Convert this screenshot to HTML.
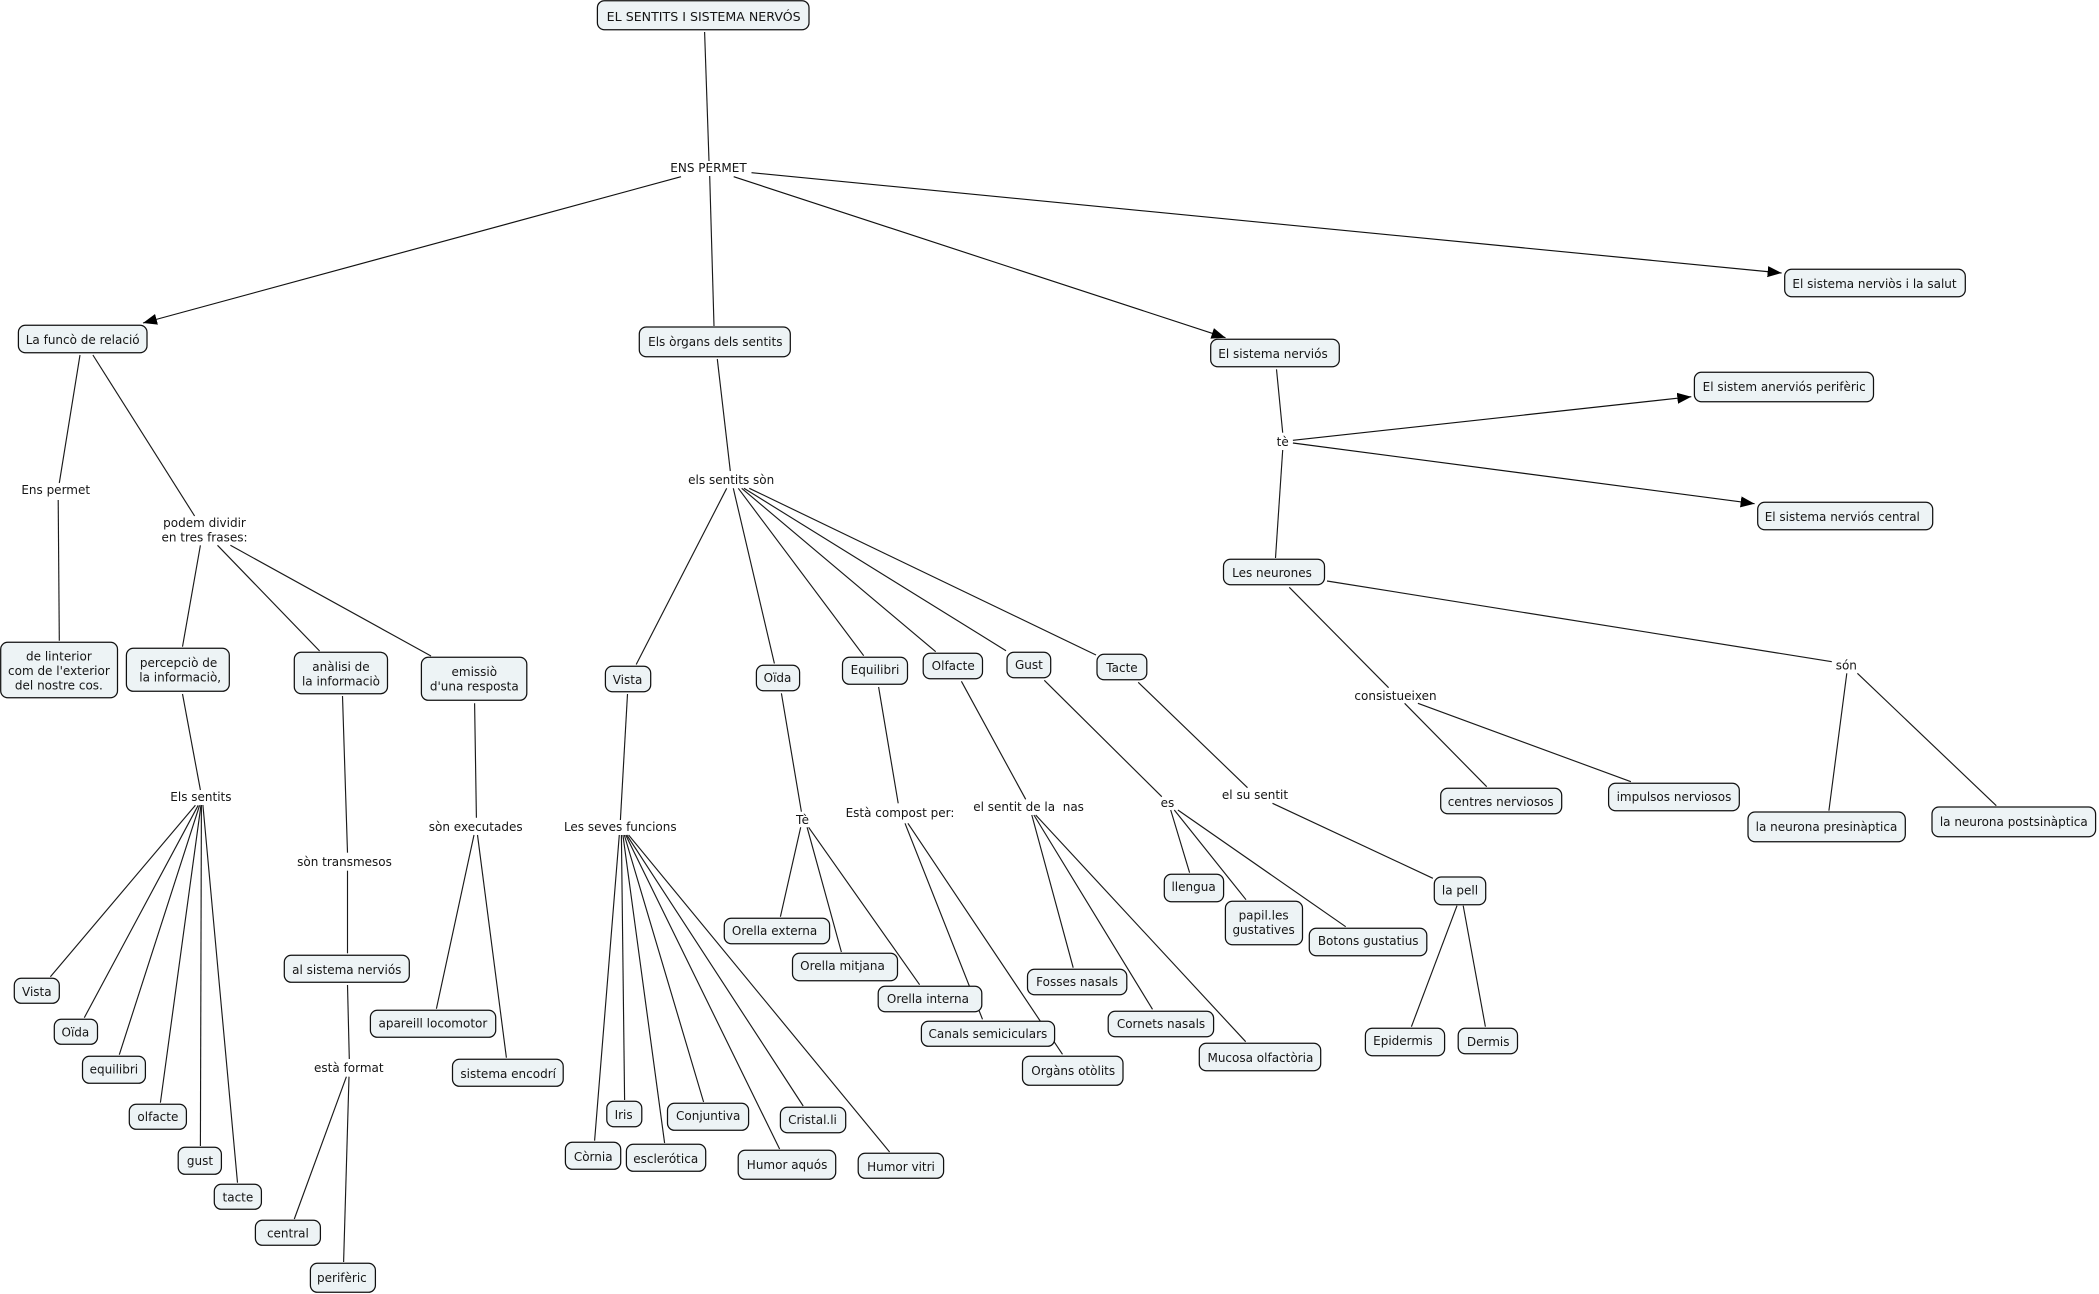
<!DOCTYPE html>
<html lang="ca">
<head>
<meta charset="utf-8">
<title>EL SENTITS I SISTEMA NERVÓS</title>
<style>
html,body{margin:0;padding:0;background:#fff;}
svg{display:block;position:absolute;left:0;top:0;}
text{font-family:"DejaVu Sans","Liberation Sans",sans-serif;font-size:12px;fill:#151515;text-anchor:middle;}
.l line{stroke:#1a1a1a;stroke-width:1.15;}
.a line{stroke:#111;stroke-width:1.15;marker-end:url(#ah);}
.b rect{fill:#edf3f5;stroke:#111;stroke-width:1.25;rx:7px;ry:7px;}
</style>
</head>
<body>
<svg width="2099" height="1294" viewBox="0 0 2099 1294" xmlns="http://www.w3.org/2000/svg">
<defs>
<marker id="ah" markerUnits="userSpaceOnUse" markerWidth="15" markerHeight="12" refX="14" refY="6" orient="auto">
<path d="M0,0.5 L14,6 L0,11.5 Z" fill="#000"/>
</marker>
</defs>

<g class="l">
<line x1="704.6" y1="32" x2="709" y2="161"/>
<line x1="709.7" y1="176" x2="714" y2="326"/>
<line x1="80" y1="355" x2="59.3" y2="483"/>
<line x1="58.2" y1="500" x2="59.3" y2="640.7"/>
<line x1="92.9" y1="355" x2="194.6" y2="516"/>
<line x1="200.4" y1="545.3" x2="182.5" y2="646.7"/>
<line x1="217.5" y1="545.3" x2="319.6" y2="651"/>
<line x1="230.4" y1="545.3" x2="431" y2="656"/>
<line x1="182.5" y1="694" x2="200.4" y2="790"/>
<line x1="342.5" y1="696" x2="347.5" y2="852.7"/>
<line x1="347.5" y1="870.7" x2="347.5" y2="953.3"/>
<line x1="474.6" y1="703.3" x2="476.4" y2="817.7"/>
<line x1="474" y1="835" x2="436.4" y2="1008.7"/>
<line x1="477.5" y1="835" x2="506.4" y2="1057.7"/>
<line x1="347.5" y1="985" x2="349.3" y2="1059"/>
<line x1="346.4" y1="1076.7" x2="294.3" y2="1219"/>
<line x1="349" y1="1076.7" x2="343.6" y2="1262"/>
<line x1="195.4" y1="805.3" x2="50.4" y2="976.7"/>
<line x1="198.2" y1="805.3" x2="84.3" y2="1017.7"/>
<line x1="199.6" y1="805.3" x2="119.3" y2="1054.7"/>
<line x1="201" y1="805" x2="160.4" y2="1102.7"/>
<line x1="201.4" y1="805" x2="200.4" y2="1146"/>
<line x1="202.9" y1="805" x2="237.5" y2="1182.7"/>

<line x1="717.3" y1="359" x2="730.3" y2="471"/>
<line x1="726.7" y1="488.3" x2="636.2" y2="664.5"/>
<line x1="733.3" y1="488.3" x2="774.4" y2="663.5"/>
<line x1="738.3" y1="488.3" x2="863.7" y2="655.7"/>
<line x1="741.7" y1="488.3" x2="935.7" y2="651.7"/>
<line x1="744" y1="488.3" x2="1006" y2="650.7"/>
<line x1="749.3" y1="488.3" x2="1096" y2="655"/>

<line x1="627.5" y1="694" x2="620.4" y2="820"/>
<line x1="619.3" y1="835" x2="594.6" y2="1140.7"/>
<line x1="621.4" y1="835" x2="624.6" y2="1100"/>
<line x1="622.9" y1="835" x2="664.6" y2="1143"/>
<line x1="624.3" y1="835" x2="703.6" y2="1102"/>
<line x1="625.7" y1="835" x2="779.6" y2="1149"/>
<line x1="626.8" y1="835" x2="803.2" y2="1106"/>
<line x1="628.6" y1="835" x2="889.6" y2="1152"/>

<line x1="781.4" y1="693.3" x2="801.4" y2="811.7"/>
<line x1="800.7" y1="827.3" x2="780.4" y2="916.7"/>
<line x1="807.1" y1="827.3" x2="841.4" y2="952"/>
<line x1="808.6" y1="827.3" x2="919.6" y2="984.7"/>

<line x1="878.6" y1="687" x2="898.2" y2="803.3"/>
<line x1="905" y1="823.3" x2="982.5" y2="1019.3"/>
<line x1="907.9" y1="823.3" x2="1062.5" y2="1054.3"/>

<line x1="961.4" y1="681.3" x2="1025.7" y2="799.3"/>
<line x1="1031.8" y1="815" x2="1073.2" y2="967.7"/>
<line x1="1033.9" y1="815" x2="1152.5" y2="1009.3"/>
<line x1="1035.7" y1="815" x2="1245.7" y2="1041.7"/>

<line x1="1044.3" y1="680.3" x2="1161.8" y2="796.7"/>
<line x1="1170.7" y1="810" x2="1189.6" y2="872.7"/>
<line x1="1174.3" y1="810" x2="1246" y2="899.7"/>
<line x1="1177.9" y1="810" x2="1345.7" y2="926.7"/>

<line x1="1138.2" y1="682.3" x2="1247.5" y2="787.7"/>
<line x1="1272.5" y1="803.3" x2="1432.9" y2="878.3"/>
<line x1="1457" y1="905.7" x2="1411.4" y2="1026.7"/>
<line x1="1463.2" y1="905.7" x2="1485.4" y2="1026.7"/>

<line x1="1276.5" y1="369.3" x2="1282.7" y2="432.7"/>
<line x1="1282.7" y1="450" x2="1275.5" y2="558"/>
<line x1="1289.3" y1="587.3" x2="1388.6" y2="687.7"/>
<line x1="1327" y1="581" x2="1831.8" y2="661.7"/>
<line x1="1404.6" y1="703.3" x2="1486.7" y2="786.7"/>
<line x1="1417.9" y1="703.3" x2="1630.9" y2="781.7"/>
<line x1="1846.8" y1="673.3" x2="1828.9" y2="810.7"/>
<line x1="1857.4" y1="673.3" x2="1996.3" y2="805.7"/>
</g>

<g class="a">
<line x1="681" y1="176.7" x2="143" y2="323"/>
<line x1="733.7" y1="176.7" x2="1225.5" y2="337.7"/>
<line x1="751.5" y1="172.7" x2="1781.6" y2="273"/>
<line x1="1292.9" y1="440.3" x2="1691.3" y2="396.7"/>
<line x1="1292.9" y1="443" x2="1754.6" y2="503.7"/>
</g>

<g class="b">
<rect x="597.4" y="0.7" width="211.6" height="29"/>
<rect x="18.4" y="325.3" width="128.6" height="27.4"/>
<rect x="639.3" y="327" width="151" height="29.7"/>
<rect x="0.7" y="642.3" width="116.8" height="55.4"/>
<rect x="126.4" y="648.3" width="102.9" height="43"/>
<rect x="294.3" y="652.3" width="93.2" height="41.4"/>
<rect x="421.4" y="657.3" width="105.4" height="43"/>
<rect x="14.3" y="978.3" width="45" height="25"/>
<rect x="54.3" y="1019.3" width="43.2" height="25"/>
<rect x="82.5" y="1056.3" width="62.9" height="27"/>
<rect x="129.3" y="1104.3" width="57.1" height="25"/>
<rect x="178.2" y="1147.3" width="43.2" height="27"/>
<rect x="214.3" y="1184.3" width="47.1" height="25"/>
<rect x="255.4" y="1220.3" width="65" height="25"/>
<rect x="310.4" y="1263.3" width="65" height="29"/>
<rect x="284.3" y="955.3" width="125" height="27"/>
<rect x="370.4" y="1010.3" width="125.3" height="27"/>
<rect x="452.5" y="1059.3" width="110.7" height="27"/>
<rect x="605.4" y="666.3" width="45.3" height="25.4"/>
<rect x="756.4" y="665.3" width="43.2" height="25.4"/>
<rect x="842.5" y="657.3" width="65" height="27"/>
<rect x="923.2" y="653.3" width="59.3" height="25.4"/>
<rect x="1007" y="652.3" width="43.7" height="25.4"/>
<rect x="1097" y="654.3" width="49.8" height="25.4"/>
<rect x="724.3" y="918.3" width="105.3" height="25.4"/>
<rect x="792.5" y="953.3" width="105" height="27.4"/>
<rect x="878.2" y="986.3" width="103.6" height="25.4"/>
<rect x="921.4" y="1021.3" width="133.2" height="25"/>
<rect x="1022.5" y="1056.3" width="100.5" height="29"/>
<rect x="606.8" y="1101.3" width="35" height="25.4"/>
<rect x="667.5" y="1103.3" width="81.1" height="27"/>
<rect x="780.4" y="1107.3" width="65.3" height="25.4"/>
<rect x="565.4" y="1142.3" width="55.3" height="27"/>
<rect x="626.4" y="1144.3" width="79.3" height="27"/>
<rect x="738.2" y="1150.3" width="97.5" height="29"/>
<rect x="858.2" y="1153.3" width="85.4" height="25"/>
<rect x="1027.5" y="969.3" width="99.3" height="25.4"/>
<rect x="1108.2" y="1011.3" width="105.4" height="25.4"/>
<rect x="1199.3" y="1043.3" width="121.4" height="27.4"/>
<rect x="1164.3" y="874.3" width="59.3" height="27.4"/>
<rect x="1225.4" y="901.3" width="77.1" height="43.4"/>
<rect x="1309.3" y="928.3" width="117.5" height="27.4"/>
<rect x="1434.3" y="877" width="51.4" height="27.7"/>
<rect x="1365.4" y="1028.3" width="79.2" height="27.4"/>
<rect x="1458.2" y="1028.3" width="59.3" height="25.4"/>
<rect x="1440.7" y="788.3" width="121" height="25.4"/>
<rect x="1608.6" y="783.3" width="130.7" height="27.4"/>
<rect x="1748" y="812" width="157.3" height="29.7"/>
<rect x="1932" y="807" width="163.6" height="29.7"/>
<rect x="1784.7" y="269.3" width="180.6" height="27.4"/>
<rect x="1210.7" y="339.3" width="128.6" height="27.4"/>
<rect x="1694.4" y="372.3" width="179.1" height="29.4"/>
<rect x="1757.7" y="502.3" width="175" height="27.4"/>
<rect x="1223.5" y="559.3" width="101" height="25.4"/>
</g>

<g>
<text x="703.7" y="21" textLength="194" lengthAdjust="spacingAndGlyphs">EL SENTITS I SISTEMA NERVÓS</text>
<text x="708.5" y="172">ENS PERMET</text>
<text x="82.7" y="344">La funcò de relació</text>
<text x="715.3" y="346">Els òrgans dels sentits</text>
<text x="1874.5" y="287.8">El sistema nerviòs i la salut</text>
<text x="1273" y="358">El sistema nerviós</text>
<text x="1784.2" y="391">El sistem anerviós perifèric</text>
<text x="1842.3" y="521">El sistema nerviós central</text>
<text x="1282.7" y="446">tè</text>
<text x="1272" y="576.8">Les neurones</text>

<text x="55.7" y="493.8">Ens permet</text>
<text x="204.5" y="527">podem dividir</text>
<text x="204.5" y="541.7">en tres frases:</text>
<text x="58.9" y="660.5">de linterior</text>
<text x="58.9" y="675.2">com de l'exterior</text>
<text x="58.9" y="689.5">del nostre cos.</text>
<text x="178.6" y="667">percepciò de</text>
<text x="180.2" y="681.5">la informaciò,</text>
<text x="341" y="671">anàlisi de</text>
<text x="341" y="685.5">la informaciò</text>
<text x="474.3" y="676">emissiò</text>
<text x="474.3" y="690.5">d'una resposta</text>
<text x="200.9" y="801">Els sentits</text>
<text x="344.5" y="866">sòn transmesos</text>
<text x="475.7" y="831">sòn executades</text>
<text x="36.8" y="995.8">Vista</text>
<text x="75.4" y="1036.5">Oïda</text>
<text x="113.9" y="1073.5">equilibri</text>
<text x="157.9" y="1121">olfacte</text>
<text x="200" y="1165">gust</text>
<text x="237.9" y="1201.5">tacte</text>
<text x="287.9" y="1237.5">central</text>
<text x="341.9" y="1281.8">perifèric</text>
<text x="346.8" y="973.8">al sistema nerviós</text>
<text x="432.9" y="1027.5">apareill locomotor</text>
<text x="508.2" y="1078">sistema encodrí</text>
<text x="348.8" y="1072">està format</text>

<text x="731.2" y="484">els sentits sòn</text>
<text x="627.5" y="683.8">Vista</text>
<text x="777.5" y="682">Oïda</text>
<text x="875" y="674">Equilibri</text>
<text x="953.2" y="670">Olfacte</text>
<text x="1028.9" y="668.8">Gust</text>
<text x="1122" y="671.8">Tacte</text>
<text x="620.3" y="831">Les seves funcions</text>
<text x="802.5" y="823.8">Tè</text>
<text x="900" y="816.8">Està compost per:</text>
<text x="1028.6" y="811" xml:space="preserve">el sentit de la  nas</text>
<text x="1167.5" y="806.8">es</text>
<text x="1255" y="799">el su sentit</text>
<text x="1395.5" y="700">consistueixen</text>
<text x="1846.3" y="669.5">són</text>

<text x="774.6" y="935">Orella externa</text>
<text x="842.5" y="970">Orella mitjana</text>
<text x="927.9" y="1003">Orella interna</text>
<text x="987.9" y="1038">Canals semiciculars</text>
<text x="1073.2" y="1075">Orgàns otòlits</text>
<text x="623.6" y="1118.8">Iris</text>
<text x="708.2" y="1120">Conjuntiva</text>
<text x="812.5" y="1124">Cristal.li</text>
<text x="593.2" y="1160.8">Còrnia</text>
<text x="665.7" y="1162.8">esclerótica</text>
<text x="787.1" y="1168.8">Humor aquós</text>
<text x="901" y="1170.8">Humor vitri</text>
<text x="1077.1" y="986">Fosses nasals</text>
<text x="1161" y="1028">Cornets nasals</text>
<text x="1260.4" y="1061.8">Mucosa olfactòria</text>
<text x="1193.6" y="891">llengua</text>
<text x="1263.6" y="919.5">papil.les</text>
<text x="1263.6" y="933.8">gustatives</text>
<text x="1368.2" y="944.8">Botons gustatius</text>
<text x="1460" y="894.5">la pell</text>
<text x="1402.9" y="1045">Epidermis</text>
<text x="1488.2" y="1045.8">Dermis</text>
<text x="1500.7" y="806">centres nerviosos</text>
<text x="1674" y="800.8">impulsos nerviosos</text>
<text x="1826.5" y="831">la neurona presinàptica</text>
<text x="2013.8" y="826">la neurona postsinàptica</text>
</g>
</svg>
</body>
</html>
